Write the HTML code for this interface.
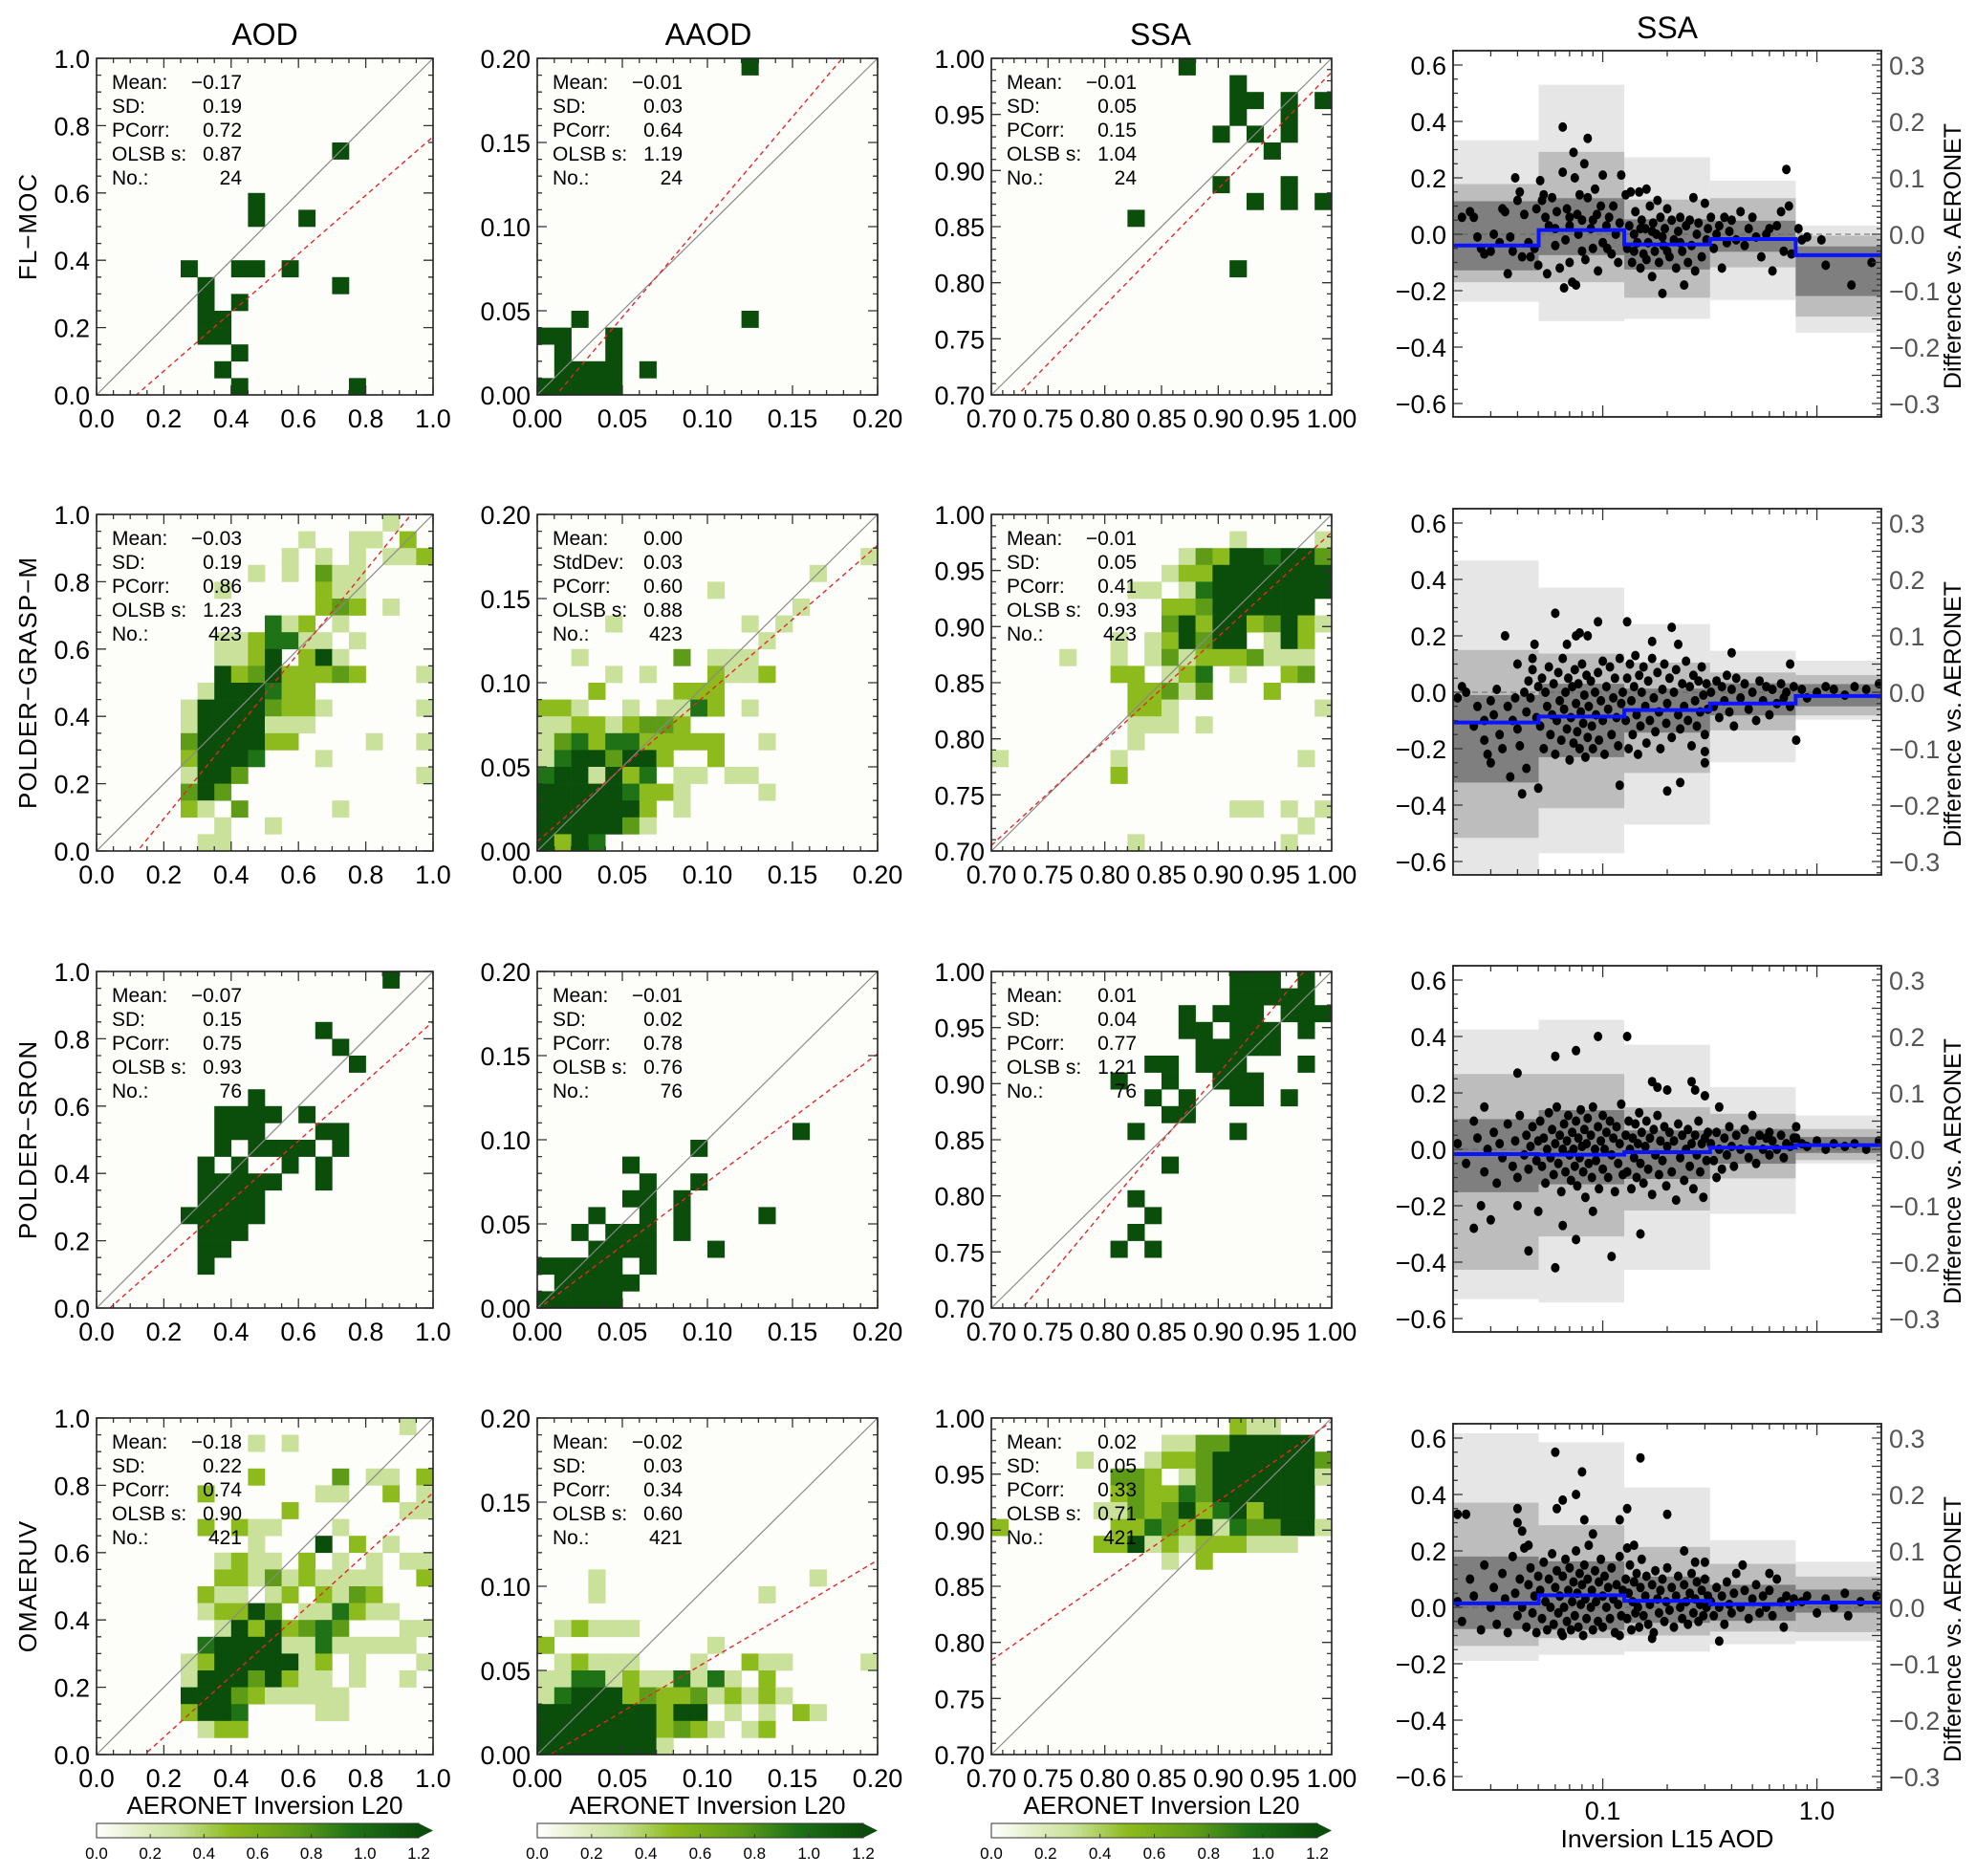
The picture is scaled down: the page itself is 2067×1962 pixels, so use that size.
<!DOCTYPE html>
<html><head><meta charset="utf-8">
<style>
body{margin:0;background:#fff}
svg{display:block;font-family:"Liberation Sans",Arial,sans-serif}
</style></head>
<body>
<svg id="fig" width="2067" height="1962" viewBox="0 0 2067 1962" xmlns="http://www.w3.org/2000/svg"></svg>
<script>
// ---------- data ----------
const rowNames = ["FL\u2212MOC","POLDER\u2212GRASP\u2212M","POLDER\u2212SRON","OMAERUV"];
const colTitles = ["AOD","AAOD","SSA","SSA"];
const xRanges = [[0,1],[0,0.2],[0.7,1.0]];
const xTickVals = [[0,0.2,0.4,0.6,0.8,1.0],[0,0.05,0.10,0.15,0.20],[0.70,0.75,0.80,0.85,0.90,0.95,1.00]];
const xTickLabels = [["0.0","0.2","0.4","0.6","0.8","1.0"],["0.00","0.05","0.10","0.15","0.20"],["0.70","0.75","0.80","0.85","0.90","0.95","1.00"]];
const minorStep = [0.05,0.01,0.01];
const statNames = ["Mean:","SD:","PCorr:","OLSB s:","No.:"];
const statNamesAlt = ["Mean:","StdDev:","PCorr:","OLSB s:","No.:"];
const statsRow1 = [["\u22120.17","0.19","0.72","0.87","24"],["\u22120.01","0.03","0.64","1.19","24"],["\u22120.01","0.05","0.15","1.04","24"]];
const statsRow2 = [["\u22120.03","0.19","0.86","1.23","423"],["0.00","0.03","0.60","0.88","423"],["\u22120.01","0.05","0.41","0.93","423"]];
const statsRow3 = [["\u22120.07","0.15","0.75","0.93","76"],["\u22120.01","0.02","0.78","0.76","76"],["0.01","0.04","0.77","1.21","76"]];
const statsRow4 = [["\u22120.18","0.22","0.74","0.90","421"],["\u22120.02","0.03","0.34","0.60","421"],["0.02","0.05","0.33","0.71","421"]];
const regIntercept = [[-0.103,-0.0133,-0.0523],[-0.15,0.0056,0.054],[-0.035,-0.001,-0.1804],[-0.13,-0.0045,0.287]];
const regSlope = [[0.87,1.19,1.04],[1.23,0.88,0.93],[0.886,0.76,1.21],[0.908,0.60,0.71]];
const levelValue = {a:0.3,b:0.5,c:0.75,d:0.95,e:1.2};

const gridR1Aod = ["....................","....................","....................","....................","....................","..............e.....","....................","....................",".........e..........",".........e..e.......","....................","....................",".....e..ee.e........","......e.......e.....","......e.e...........","......ee............","......ee............","........e...........",".......e............","........e......e...."];
const gridR1Aaod = ["............e.......","....................","....................","....................","....................","....................","....................","....................","....................","....................","....................","....................","....................","....................","....................","..e.........e.......","ee..e...............",".e..e...............",".eeee.e.............","eeeee..............."];
const gridR1Ssa = ["...........e........","..............e.....","..............ee.e.e","..............e..e..",".............e.e.e..","................e...","....................",".............e...e..","...............e.e.e","........e...........","....................","....................","..............e.....","....................","....................","....................","....................","....................","....................","...................."];
const gridR2Aod = [".................a..","............a..aa.b.","...........a.a.a.aab",".........a.a.caa....",".......a.....baa....",".............bcb.a..","..........dab.a.....",".......aabddaa.a....",".......aabe.bea.....",".......ebcebbbcb...a","......aeeedbb.......",".....aeeeecbba.....a",".....aeeeeaaa.......",".....ceeeebb....a..a",".....beeed...a......",".....aeec..........a",".....cec............",".....ba.c.....a.....",".......a..a.........","......aa............"];
const gridR2Aaod = ["....................","....................","...................a","................a...","..........a.........","...............a....","....a.......a.a.....",".............a......","..a.....c.aaa.......","....a.a...baab......","...b....bbb.........","bba..a.aadb.a.......","aabbabccb...........","acdbddbbbbb..a......","adeeceeb..b.........","deeaebd.aa.aa.......","eeeeedbba....a......","eeeeeeb.a...........","eeeeeca.............","ebed................"];
const gridR2Ssa = ["....................","..............a....a","...........acbeedeec","..........abbeeeeeee","........aa.adeeeeeee","..........bbceeeeee.","..........cebeebceba",".......a.abecee.aeb.","....a..a.acabbbcaaa.",".......bb.abd.a..bc.","........bbcac...b...","........bba........a","........aaa.a.......","........a...........","a......a..........a.",".......b............","....................","..............aa.a.a","..................a.","........a........a.."];
const gridR3Aod = [".................e..","....................","....................",".............e......","..............e.....","...............e....","....................",".........e..........",".......eeee.e.......",".......eee...ee.....",".......e.eeee.e.....","......e.e..e.e......","......eeeee..e......","......eeee..........",".....eeeee..........","......eee...........","......ee............","......e.............","....................","...................."];
const gridR3Aaod = ["....................","....................","....................","....................","....................","....................","....................","....................","....................","...............e....",".........e..........",".....e..............","......e..e..........",".....ee.e...........","...e..e.e....e......","..e.eee.e...........","...eeee...e.........","eeeee.e.............",".eeeee..............","eeeee..............."];
const gridR3Ssa = ["..............eee.e.","..............eeeee.","...........e.eee.eee","...........ee.eee.e.","............eeeee...",".........ee.eee...e.",".......e..e..eee....",".........e.e..ee.e..","..........ee........","........e.....e.....","....................","..........e.........","....................","........e...........",".........e..........","........e...........",".......e.e..........","....................","....................","...................."];
const gridR4Aod = ["..................a.",".........a.a........","....................",".........b....c.aa.b","......b......aa..b.a","...........b......aa","......b.baa...a.....",".........a...e.b.a..",".......abaa.b.a.a.aa",".......bbacabaaaa..b","......baa.ab.bacb...","......abbec.aadbaa..",".......aebebcdc...aa","......deeeeaadaaaaa.",".....abeeeeeab.a...a",".....aeeecebaa.a..a.",".....eeecbaaaaa.....",".....beed....aa.....","......abb...........","...................."];
const gridR4Aaod = ["....................","....................","....................","....................","....................","....................","....................","....................","....................","...a............a...","...a.........a......","....................",".abaaa..............","b.........a.........",".abaaa...a..baa....a","aaddabaadada.b......","adeeebcbbcababa.....","eeeeeeebee.a.a.ba...","eeeeeeebcba.ab......","eeeeeeea............"];
const gridR4Ssa = ["..............baa...","..........aacceeeee.",".....a...abbceeeeeec",".......ccb.aceeeeeea",".......bcbbdceeeeee.","......aacbcebdebeee.","b......bbdcbeadcceea","......bbeababbbaaa..","..........a.b.......","....................","....................","....................","....................","....................","....................","....................","....................","....................","....................","...................."];

const binEdges = [0.02,0.0502,0.126,0.317,0.796,2.0];
const binMean = [[-0.04,0.015,-0.036,-0.017,-0.074],[-0.107,-0.086,-0.063,-0.04,-0.013],[-0.017,-0.019,-0.01,0.006,0.015],[0.014,0.043,0.023,0.011,0.017]];
const bandLight = [[[-0.239,0.333],[-0.308,0.53],[-0.30,0.273],[-0.233,0.19],[-0.349,0.031]],[[-0.647,0.467],[-0.571,0.371],[-0.469,0.242],[-0.248,0.147],[-0.097,0.112]],[[-0.531,0.425],[-0.543,0.459],[-0.427,0.371],[-0.229,0.221],[-0.05,0.12]],[[-0.19,0.617],[-0.168,0.585],[-0.157,0.425],[-0.131,0.238],[-0.12,0.162]]];
const bandMid = [[[-0.17,0.178],[-0.17,0.292],[-0.225,0.123],[-0.117,0.128],[-0.292,-0.005]],[[-0.516,0.15],[-0.411,0.137],[-0.286,0.105],[-0.135,0.07],[-0.082,0.061]],[[-0.427,0.267],[-0.309,0.267],[-0.217,0.149],[-0.103,0.126],[-0.038,0.072]],[[-0.137,0.371],[-0.109,0.291],[-0.10,0.214],[-0.086,0.154],[-0.088,0.109]]];
const bandDark = [[[-0.128,0.117],[-0.074,0.128],[-0.125,0.053],[-0.062,0.048],[-0.219,-0.043]],[[-0.32,-0.01],[-0.23,0.03],[-0.143,0.013],[-0.082,0.032],[-0.05,0.029]],[[-0.152,0.107],[-0.124,0.139],[-0.105,0.067],[-0.051,0.072],[-0.013,0.044]],[[-0.077,0.18],[-0.08,0.163],[-0.055,0.109],[-0.048,0.08],[-0.019,0.063]]];

const dotsR1 = [[0.022,0.06],[0.024,0.08],[0.025,0.06],[0.026,-0.01],[0.027,-0.05],[0.028,-0.07],[0.03,-0.06],[0.031,0.0],[0.033,-0.03],[0.034,0.09],[0.035,0.08],[0.036,-0.14],[0.037,-0.01],[0.038,-0.06],[0.039,0.2],[0.04,0.12],[0.041,0.15],[0.042,-0.08],[0.043,0.07],[0.045,-0.03],[0.046,-0.08],[0.048,-0.05],[0.049,0.09],[0.05,-0.11],
[0.051,0.19],[0.052,0.12],[0.053,0.14],[0.054,0.06],[0.055,-0.14],[0.056,0.03],[0.058,0.13],[0.06,-0.04],[0.061,0.08],[0.063,-0.12],[0.065,0.38],[0.065,0.22],[0.066,-0.19],[0.067,-0.02],[0.068,0.09],[0.07,0.06],[0.07,-0.1],[0.072,-0.17],[0.073,0.29],[0.074,0.2],[0.075,-0.18],[0.076,0.07],[0.077,0.0],[0.078,0.14],[0.08,0.05],[0.082,0.25],[0.083,-0.09],[0.085,0.34],[0.085,0.13],[0.088,0.02],[0.09,-0.05],[0.092,0.16],[0.094,0.07],[0.095,-0.13],[0.098,0.1],[0.1,0.21],[0.1,-0.03],[0.104,0.03],[0.107,0.06],[0.11,-0.07],[0.112,0.1],[0.115,0.0],[0.118,-0.1],[0.12,0.04],[0.122,0.21],[0.06,0.02],[0.07,0.03],[0.09,0.05],[0.105,-0.05],[0.08,-0.06],
[0.128,0.14],[0.13,-0.05],[0.133,0.03],[0.135,0.15],[0.137,-0.1],[0.14,0.0],[0.142,0.08],[0.145,-0.03],[0.148,0.15],[0.15,-0.12],[0.152,0.05],[0.155,-0.07],[0.158,0.02],[0.16,0.16],[0.163,-0.03],[0.166,0.1],[0.17,-0.15],[0.172,0.04],[0.175,-0.06],[0.178,0.0],[0.18,0.12],[0.183,-0.1],[0.186,0.06],[0.19,-0.21],[0.192,-0.04],[0.195,0.02],[0.2,0.09],[0.205,-0.08],[0.21,0.05],[0.215,-0.02],[0.22,-0.12],[0.225,0.01],[0.23,0.06],[0.235,-0.06],[0.24,-0.18],[0.245,0.03],[0.25,-0.1],[0.255,0.05],[0.26,-0.04],[0.265,0.13],[0.27,-0.13],[0.275,0.0],[0.28,0.04],[0.29,-0.08],[0.3,0.11],[0.305,-0.02],[0.31,0.02],[0.14,-0.06],[0.16,-0.09],[0.19,-0.01],[0.2,-0.06],[0.23,-0.03],[0.15,0.02],[0.17,0.01],
[0.32,0.06],[0.33,-0.05],[0.34,0.0],[0.35,0.03],[0.36,-0.12],[0.37,0.06],[0.38,-0.03],[0.39,0.01],[0.4,0.05],[0.42,-0.02],[0.44,0.08],[0.46,-0.04],[0.48,0.02],[0.5,0.06],[0.52,-0.01],[0.55,-0.08],[0.58,0.0],[0.6,0.02],[0.62,-0.13],[0.65,0.03],[0.68,0.08],[0.7,-0.06],[0.72,0.23],[0.74,0.1],[0.76,-0.07],
[0.82,0.02],[0.85,-0.02],[0.9,-0.01],[1.1,-0.11],[1.45,-0.18],[1.8,-0.1],[1.05,-0.02]];
const dotsR2 = [[0.035,0.2],[0.04,0.1],[0.048,0.17],[0.047,0.12],[0.06,0.28],[0.068,0.17],[0.075,0.2],[0.078,0.21],[0.085,0.2],[0.095,0.25],[0.13,0.25],[0.17,0.18],[0.21,0.23],[0.225,0.17],[0.4,0.14],[0.75,0.1],[0.8,-0.17],[0.042,-0.36],[0.05,-0.34],[0.044,-0.27],[0.12,-0.33],[0.2,-0.35],[0.23,-0.32],[0.3,-0.21],[0.3,-0.25],[0.03,-0.25],[0.037,-0.3],[0.028,-0.17],[0.03,-0.03],[0.022,0.02],
[0.021,-0.02],[0.023,0.0],[0.025,-0.12],[0.026,-0.05],[0.028,-0.1],[0.029,-0.22],[0.031,-0.08],[0.032,0.01],[0.033,-0.15],[0.034,-0.2],[0.036,-0.05],[0.038,-0.1],[0.039,-0.02],[0.04,-0.13],[0.041,-0.19],[0.043,0.0],[0.044,-0.07],[0.045,0.04],[0.046,-0.02],[0.047,0.08],[0.049,-0.09],[0.05,0.02],
[0.051,-0.12],[0.052,0.05],[0.053,-0.2],[0.054,0.0],[0.055,-0.05],[0.056,0.09],[0.057,-0.15],[0.058,-0.08],[0.059,0.03],[0.06,-0.22],[0.061,-0.1],[0.062,0.07],[0.063,-0.03],[0.064,-0.17],[0.065,0.12],[0.066,-0.06],[0.067,0.0],[0.068,-0.13],[0.069,0.05],[0.07,-0.24],[0.071,-0.09],[0.072,0.02],[0.073,-0.18],[0.074,0.08],[0.075,-0.04],[0.076,-0.14],[0.077,0.03],[0.078,-0.2],[0.079,-0.07],[0.08,0.1],[0.081,-0.11],[0.082,-0.01],[0.083,-0.23],[0.084,0.06],[0.085,-0.16],[0.086,-0.05],[0.088,0.04],[0.089,-0.12],[0.09,-0.2],[0.092,0.0],[0.093,-0.08],[0.095,0.07],[0.096,-0.17],[0.098,-0.03],[0.1,0.11],[0.1,-0.1],[0.102,-0.22],[0.104,0.02],[0.106,-0.06],[0.108,0.09],[0.11,-0.15],[0.112,-0.02],[0.114,0.05],[0.116,-0.09],[0.118,-0.19],[0.12,0.12],[0.122,-0.04],[0.124,0.0],
[0.128,-0.1],[0.13,0.05],[0.132,-0.2],[0.134,0.1],[0.136,-0.03],[0.138,-0.15],[0.14,0.02],[0.142,0.13],[0.144,-0.08],[0.146,-0.22],[0.148,0.06],[0.15,-0.12],[0.152,0.0],[0.155,0.09],[0.158,-0.05],[0.16,-0.18],[0.163,0.04],[0.166,-0.1],[0.17,0.12],[0.173,-0.02],[0.176,-0.14],[0.18,0.07],[0.183,-0.07],[0.186,-0.2],[0.19,0.01],[0.194,0.1],[0.198,-0.11],[0.2,-0.04],[0.205,0.05],[0.21,-0.16],[0.215,0.0],[0.22,0.08],[0.225,-0.08],[0.23,-0.13],[0.235,0.03],[0.24,-0.05],[0.245,0.11],[0.25,-0.1],[0.255,0.02],[0.26,-0.19],[0.265,0.06],[0.27,-0.03],[0.275,-0.12],[0.28,0.04],[0.285,-0.07],[0.29,0.09],[0.295,-0.01],[0.3,-0.15],[0.305,0.03],[0.31,-0.06],
[0.32,0.0],[0.33,-0.05],[0.34,0.04],[0.35,-0.09],[0.36,0.02],[0.37,-0.03],[0.38,0.06],[0.39,-0.07],[0.4,0.01],[0.41,-0.12],[0.42,0.05],[0.44,-0.02],[0.46,0.03],[0.48,-0.06],[0.5,0.0],[0.52,-0.1],[0.54,0.04],[0.56,-0.03],[0.58,0.02],[0.6,-0.08],[0.62,0.01],[0.65,-0.04],[0.68,0.03],[0.7,-0.02],[0.72,0.0],[0.75,-0.05],[0.78,0.02],
[0.85,0.01],[0.9,-0.02],[1.0,0.0],[1.1,0.02],[1.2,0.01],[1.35,-0.01],[1.5,0.02],[1.7,0.01],[1.95,0.03]];
const dotsR3 = [[0.06,0.33],[0.075,0.35],[0.095,0.4],[0.13,0.4],[0.04,0.27],[0.028,0.15],[0.027,-0.2],[0.03,-0.25],[0.025,-0.28],[0.045,-0.36],[0.05,-0.22],[0.065,-0.27],[0.075,-0.32],[0.09,-0.22],[0.11,-0.38],[0.15,-0.3],[0.06,-0.42],[0.17,0.24],[0.18,0.22],[0.2,0.21],[0.26,0.24],[0.27,0.21],[0.3,0.19],[0.35,0.15],[0.5,0.12],[0.34,-0.1],[0.6,0.06],[0.8,0.08],[0.8,0.04],[0.04,-0.2],
[0.021,0.02],[0.023,-0.05],[0.025,0.1],[0.026,0.04],[0.028,-0.08],[0.029,0.0],[0.031,0.06],[0.032,-0.12],[0.033,0.02],[0.034,-0.03],[0.036,0.09],[0.038,-0.06],[0.039,0.03],[0.04,-0.1],[0.041,0.12],[0.043,-0.02],[0.044,0.05],[0.045,-0.07],[0.046,0.01],[0.047,0.08],[0.049,-0.04],[0.05,0.03],
[0.051,0.1],[0.052,-0.06],[0.053,0.04],[0.054,-0.12],[0.055,0.0],[0.056,0.13],[0.057,-0.03],[0.058,0.07],[0.059,-0.09],[0.06,0.02],[0.061,0.15],[0.062,-0.05],[0.063,0.05],[0.064,-0.15],[0.065,0.0],[0.066,0.09],[0.067,-0.08],[0.068,0.03],[0.069,0.12],[0.07,-0.02],[0.071,-0.11],[0.072,0.06],[0.073,0.0],[0.074,-0.06],[0.075,0.1],[0.076,-0.13],[0.077,0.04],[0.078,-0.03],[0.079,0.14],[0.08,0.01],[0.081,-0.08],[0.082,0.07],[0.083,-0.17],[0.084,0.02],[0.085,0.11],[0.086,-0.05],[0.088,0.05],[0.089,-0.1],[0.09,0.15],[0.092,0.0],[0.093,-0.04],[0.095,0.08],[0.096,-0.14],[0.098,0.03],[0.1,0.12],[0.1,-0.07],[0.102,0.0],[0.104,0.06],[0.106,-0.1],[0.108,0.1],[0.11,-0.02],[0.112,0.04],[0.114,-0.15],[0.116,0.08],[0.118,-0.05],[0.12,0.02],[0.122,0.16],[0.124,-0.09],
[0.128,0.05],[0.13,-0.08],[0.132,0.1],[0.134,0.0],[0.136,-0.14],[0.138,0.04],[0.14,-0.03],[0.142,0.09],[0.144,-0.1],[0.146,0.02],[0.148,0.13],[0.15,-0.05],[0.152,0.06],[0.155,-0.12],[0.158,0.01],[0.16,0.1],[0.163,-0.07],[0.166,0.04],[0.17,-0.16],[0.173,0.07],[0.176,-0.02],[0.18,0.12],[0.183,-0.09],[0.186,0.03],[0.19,-0.04],[0.194,0.08],[0.198,-0.13],[0.2,0.01],[0.205,0.06],[0.21,-0.08],[0.215,0.03],[0.22,-0.18],[0.225,0.09],[0.23,-0.03],[0.235,0.05],[0.24,-0.11],[0.245,0.0],[0.25,0.07],[0.255,-0.06],[0.26,0.02],[0.265,-0.14],[0.27,0.05],[0.275,-0.02],[0.28,0.1],[0.285,-0.08],[0.29,0.02],[0.295,-0.17],[0.3,0.04],[0.305,-0.04],[0.31,0.06],
[0.32,0.02],[0.33,-0.04],[0.34,0.06],[0.35,0.0],[0.36,-0.07],[0.37,0.04],[0.38,-0.02],[0.39,0.08],[0.4,0.01],[0.41,-0.06],[0.42,0.05],[0.44,0.0],[0.46,0.07],[0.48,-0.03],[0.5,0.03],[0.52,-0.05],[0.54,0.05],[0.56,0.0],[0.58,0.04],[0.6,-0.02],[0.62,0.03],[0.65,0.0],[0.68,0.05],[0.7,-0.03],[0.72,0.02],[0.75,0.01],[0.78,0.04],
[0.85,0.02],[0.9,0.01],[1.0,0.03],[1.1,0.0],[1.2,0.02],[1.35,0.01],[1.5,0.02],[1.7,0.0],[1.95,0.03]];
const dotsR4 = [[0.021,0.33],[0.023,0.33],[0.04,0.35],[0.04,0.3],[0.042,0.27],[0.045,0.22],[0.06,0.55],[0.061,0.35],[0.065,0.38],[0.075,0.4],[0.08,0.48],[0.082,0.31],[0.09,0.26],[0.12,0.31],[0.13,0.35],[0.15,0.53],[0.2,0.33],[0.14,0.22],[0.13,0.21],[0.24,0.2],[0.27,0.16],[0.3,0.16],[0.45,0.15],[0.6,0.12],[0.35,-0.12],[0.065,-0.1],[0.12,-0.1],[0.17,-0.11],
[0.021,0.02],[0.022,-0.05],[0.024,0.1],[0.025,0.04],[0.027,-0.08],[0.028,0.15],[0.03,0.0],[0.031,0.07],[0.032,-0.06],[0.034,0.12],[0.035,0.03],[0.036,-0.09],[0.038,0.18],[0.039,0.05],[0.04,-0.03],[0.041,0.1],[0.042,0.0],[0.043,0.21],[0.044,-0.07],[0.045,0.08],[0.046,0.14],[0.047,-0.02],[0.048,0.04],[0.049,-0.09],[0.05,0.11],
[0.051,0.06],[0.052,-0.04],[0.053,0.16],[0.054,0.02],[0.055,-0.08],[0.056,0.1],[0.057,0.0],[0.058,0.19],[0.059,-0.06],[0.06,0.07],[0.061,0.13],[0.062,-0.02],[0.063,0.04],[0.064,-0.09],[0.065,0.11],[0.066,0.0],[0.067,0.17],[0.068,-0.05],[0.069,0.06],[0.07,0.14],[0.071,-0.08],[0.072,0.02],[0.073,0.09],[0.074,-0.03],[0.075,0.2],[0.076,0.05],[0.077,-0.07],[0.078,0.12],[0.079,0.01],[0.08,0.08],[0.081,-0.1],[0.082,0.15],[0.083,0.03],[0.084,-0.04],[0.085,0.1],[0.086,0.22],[0.088,0.0],[0.089,0.06],[0.09,-0.08],[0.092,0.13],[0.093,0.02],[0.095,-0.05],[0.096,0.09],[0.098,0.17],[0.1,0.04],[0.1,-0.07],[0.102,0.11],[0.104,0.0],[0.106,0.07],[0.108,-0.04],[0.11,0.14],[0.112,0.03],[0.114,-0.09],[0.116,0.08],[0.118,0.01],[0.12,0.18],[0.122,-0.03],[0.124,0.06],
[0.128,0.1],[0.13,-0.04],[0.132,0.05],[0.134,0.15],[0.136,-0.08],[0.138,0.02],[0.14,0.09],[0.142,-0.02],[0.144,0.12],[0.146,0.0],[0.148,-0.07],[0.15,0.07],[0.152,0.17],[0.155,-0.03],[0.158,0.04],[0.16,0.11],[0.163,-0.06],[0.166,0.01],[0.17,0.08],[0.173,-0.09],[0.176,0.13],[0.18,0.03],[0.183,-0.02],[0.186,0.06],[0.19,0.1],[0.194,-0.05],[0.198,0.02],[0.2,0.14],[0.205,-0.01],[0.21,0.07],[0.215,-0.07],[0.22,0.04],[0.225,0.11],[0.23,0.0],[0.235,-0.04],[0.24,0.08],[0.245,0.02],[0.25,-0.06],[0.255,0.05],[0.26,0.12],[0.265,-0.02],[0.27,0.03],[0.275,0.09],[0.28,-0.05],[0.285,0.01],[0.29,0.06],[0.295,-0.03],[0.3,0.1],[0.305,0.0],[0.31,0.04],
[0.32,0.02],[0.33,-0.03],[0.34,0.07],[0.35,0.0],[0.36,0.04],[0.37,-0.06],[0.38,0.09],[0.39,0.01],[0.4,-0.02],[0.41,0.05],[0.42,0.12],[0.44,0.0],[0.46,0.06],[0.48,-0.04],[0.5,0.03],[0.52,0.08],[0.54,-0.02],[0.56,0.04],[0.58,0.0],[0.6,0.06],[0.62,-0.03],[0.65,0.1],[0.68,0.02],[0.7,-0.07],[0.72,0.04],[0.75,0.0],[0.78,0.03],
[0.85,0.02],[0.9,0.04],[1.0,-0.02],[1.1,0.03],[1.2,0.0],[1.35,0.05],[1.4,-0.03],[1.6,0.02],[1.9,0.04]];

// ---------- layout ----------
const colX = [101,562,1037];
const colW = [352,356,356];
const rowTop = [61,538,1016,1483];
const PH = 352;
const rpX0 = 1520, rpX1 = 1968;
const rpTop = [53,532,1010,1489];
const RPH = 383;
const TICKFS = 27;

const grids = [[gridR1Aod,gridR1Aaod,gridR1Ssa],[gridR2Aod,gridR2Aaod,gridR2Ssa],[gridR3Aod,gridR3Aaod,gridR3Ssa],[gridR4Aod,gridR4Aaod,gridR4Ssa]];
const statsAll = [statsRow1,statsRow2,statsRow3,statsRow4];
const dotsAll = [dotsR1,dotsR2,dotsR3,dotsR4];

const NS = "http://www.w3.org/2000/svg";
const svg = document.getElementById("fig");
function mk(tag, parent){ const e=document.createElementNS(NS,tag); parent.appendChild(e); return e; }
function txt(parent,x,y,s,size,anchor,fill,name){
  const t=mk("text",parent);
  t.setAttribute("x",x); t.setAttribute("y",y);
  t.setAttribute("font-size",size); t.setAttribute("text-anchor",anchor||"start");
  t.setAttribute("fill",fill||"#000");
  t.textContent=s;
  
  
  return t;
}
const cstops=[[0,[255,255,255]],[0.2,[219,234,184]],[0.3,[201,225,155]],[0.5,[141,187,29]],[0.75,[94,156,24]],[0.95,[31,114,22]],[1.2,[11,77,11]]];
function colorOf(v){
  v=Math.max(0,Math.min(1.2,v));
  for(let k=1;k<cstops.length;k++){
    if(v<=cstops[k][0]){const a=cstops[k-1],b=cstops[k];const f=(v-a[0])/(b[0]-a[0]);
      const c=a[1].map((x,i)=>Math.round(x+(b[1][i]-x)*f));return `rgb(${c[0]},${c[1]},${c[2]})`;}
  }
  return "rgb(11,77,11)";
}
const defs=mk("defs",svg);
const lg=mk("linearGradient",defs); lg.setAttribute("id","cbg");
for(let k=0;k<=24;k++){const st=mk("stop",lg);st.setAttribute("offset",(k/24));st.setAttribute("stop-color",colorOf(k/24*1.2));}

const titleX=[277,741,1214,1744];
const titleY=[47,47,47,40];
for(let c=0;c<4;c++){ txt(svg,titleX[c],titleY[c],colTitles[c],32,"middle","#000","column-title-"+colTitles[c].toLowerCase()+"-"+(c+1)); }

for(let r=0;r<4;r++){
  const cy=rowTop[r]+176;
  const rl=txt(svg,0,0,rowNames[r],26,"middle","#000","row-label-"+(r+1));
  rl.setAttribute("transform",`translate(38,${cy}) rotate(-90)`);
  rl.setAttribute("letter-spacing","1");

  for(let c=0;c<3;c++){
    const g=mk("g",svg);
    
    
    const x0=colX[c], w=colW[c], y0=rowTop[r];
    const [mn,mx]=xRanges[c];
    const sx=v=>x0+(v-mn)/(mx-mn)*w;
    const sy=v=>y0+PH-(v-mn)/(mx-mn)*PH;
    const bg=mk("rect",g); bg.setAttribute("x",x0);bg.setAttribute("y",y0);bg.setAttribute("width",w);bg.setAttribute("height",PH);bg.setAttribute("fill","#fdfdfa");
    
    
    const clipId=`clip${r}${c}`;
    const cp=mk("clipPath",defs); cp.setAttribute("id",clipId);
    const cr=mk("rect",cp); cr.setAttribute("x",x0);cr.setAttribute("y",y0);cr.setAttribute("width",w);cr.setAttribute("height",PH);
    const grid=grids[r][c]; const step=(mx-mn)/20;
    for(let row=0;row<20;row++){
      const s=(grid[row]||"");
      for(let i=0;i<20;i++){
        const ch=s[i]; if(!ch||!levelValue[ch]) continue;
        const vx=mn+i*step, vy=mx-row*step;
        const rc=mk("rect",g);
        rc.setAttribute("x",sx(vx).toFixed(2)); rc.setAttribute("y",sy(vy).toFixed(2));
        rc.setAttribute("width",(sx(vx+step)-sx(vx)+0.3).toFixed(2)); rc.setAttribute("height",(sy(vy-step)-sy(vy)+0.3).toFixed(2));
        rc.setAttribute("fill",colorOf(levelValue[ch]));
        
        
      }
    }
    const l1=mk("line",g); l1.setAttribute("x1",sx(mn));l1.setAttribute("y1",sy(mn));l1.setAttribute("x2",sx(mx));l1.setAttribute("y2",sy(mx));
    l1.setAttribute("stroke","#8a8a8a");l1.setAttribute("stroke-width","1.2");
    
    
    const a=regIntercept[r][c], b=regSlope[r][c];
    const rl2=mk("line",g); rl2.setAttribute("x1",sx(mn));rl2.setAttribute("y1",sy(a+b*mn));rl2.setAttribute("x2",sx(mx));rl2.setAttribute("y2",sy(a+b*mx));
    rl2.setAttribute("stroke","#e02828");rl2.setAttribute("stroke-width","1.4");rl2.setAttribute("stroke-dasharray","5,4");
    rl2.setAttribute("clip-path",`url(#${clipId})`);
    
    
    const nMinor=Math.round((mx-mn)/minorStep[c]);
    let dpath="";
    for(let k=0;k<=nMinor;k++){
      const v=mn+k*minorStep[c];
      const major=xTickVals[c].some(t=>Math.abs(t-v)<1e-6);
      const L=major?10:5;
      const X=sx(v), Y=sy(v);
      dpath+=`M${X},${y0+PH}v${-L}M${X},${y0}v${L}M${x0},${Y}h${L}M${x0+w},${Y}h${-L}`;
    }
    const tk=mk("path",g); tk.setAttribute("d",dpath); tk.setAttribute("stroke","#333"); tk.setAttribute("stroke-width","1.3"); tk.setAttribute("fill","none");
    
    
    const fr=mk("rect",g); fr.setAttribute("x",x0);fr.setAttribute("y",y0);fr.setAttribute("width",w);fr.setAttribute("height",PH);fr.setAttribute("fill","none");fr.setAttribute("stroke","#222");fr.setAttribute("stroke-width","1.6");
    
    
    xTickVals[c].forEach((v,k)=>{
      txt(g,sx(v),y0+PH+34,xTickLabels[c][k],TICKFS,"middle","#000","x-tick-label");
      txt(g,x0-7,sy(v)+10,xTickLabels[c][k],TICKFS,"end","#000","y-tick-label");
    });
    const names=(r===1&&c===1)?statNamesAlt:statNames;
    for(let k=0;k<5;k++){
      txt(g,x0+16,y0+32+k*25,names[k],21,"start","#000","stat-label");
      txt(g,x0+152,y0+32+k*25,statsAll[r][c][k],21,"end","#000","stat-value");
    }
    if(r===3){
      const xl=txt(g,x0+w/2,1897,"AERONET Inversion L20",26,"middle","#000","x-axis-title");
      xl.setAttribute("textLength","289"); xl.setAttribute("lengthAdjust","spacingAndGlyphs");
      const bw=w-15, cbY=1907, cbH=15;
      const cb=mk("rect",g); cb.setAttribute("x",x0);cb.setAttribute("y",cbY);cb.setAttribute("width",bw);cb.setAttribute("height",cbH);
      cb.setAttribute("fill","url(#cbg)");cb.setAttribute("stroke","#333");cb.setAttribute("stroke-width","1");
      
      
      const ar=mk("polygon",g); ar.setAttribute("points",`${x0+bw},${cbY} ${x0+bw+15},${cbY+cbH/2} ${x0+bw},${cbY+cbH}`); ar.setAttribute("fill","rgb(11,77,11)");
      
      
      const cbl=["0.0","0.2","0.4","0.6","0.8","1.0","1.2"];
      let tp="";
      cbl.forEach((s,k)=>{ const X=x0+bw*k/6; tp+=`M${X},${cbY+cbH}v-4`; txt(g,X,1944,s,17,"middle","#000","colorbar-label"); });
      const cbt=mk("path",g); cbt.setAttribute("d",tp); cbt.setAttribute("stroke","#333"); cbt.setAttribute("stroke-width","1");
    }
  }

  const g=mk("g",svg);
  
  
  const t0=rpTop[r];
  const lx=v=>rpX0+(Math.log10(v)-Math.log10(0.02))*224;
  const ly=v=>t0+15+(0.6-v)*295;
  const cpId="rclip"+r;
  const cp=mk("clipPath",defs); cp.setAttribute("id",cpId);
  const cr=mk("rect",cp); cr.setAttribute("x",rpX0);cr.setAttribute("y",t0);cr.setAttribute("width",rpX1-rpX0);cr.setAttribute("height",RPH);
  const inner=mk("g",g); inner.setAttribute("clip-path",`url(#${cpId})`);
  const bandSets=[[bandLight,"#e6e6e6","band-2sigma"],[bandMid,"#bdbdbd","band-1sigma"],[bandDark,"#7f7f7f","band-interquartile"]];
  bandSets.forEach(([arr,col,nm])=>{
    for(let b=0;b<5;b++){
      const [lo,hi]=arr[r][b];
      const re=mk("rect",inner);
      re.setAttribute("x",lx(binEdges[b]));re.setAttribute("width",lx(binEdges[b+1])-lx(binEdges[b]));
      re.setAttribute("y",ly(hi));re.setAttribute("height",ly(lo)-ly(hi));re.setAttribute("fill",col);
      
      
    }
  });
  const zl=mk("line",inner); zl.setAttribute("x1",rpX0);zl.setAttribute("x2",rpX1);zl.setAttribute("y1",ly(0));zl.setAttribute("y2",ly(0));
  zl.setAttribute("stroke","#666");zl.setAttribute("stroke-dasharray","6,4");zl.setAttribute("stroke-width","1");
  
  
  dotsAll[r].forEach(([xv,yv])=>{
    const d=mk("ellipse",inner); d.setAttribute("cx",lx(xv).toFixed(1)); d.setAttribute("cy",ly(yv).toFixed(1)); d.setAttribute("rx","4.5"); d.setAttribute("ry","5"); d.setAttribute("fill","#000");
    
    
  });
  let mp="";
  for(let b=0;b<5;b++){ const Y=ly(binMean[r][b]); mp+=(b===0?"M":"L")+lx(binEdges[b])+","+Y+"L"+lx(binEdges[b+1])+","+Y; }
  const ml=mk("path",inner); ml.setAttribute("d",mp); ml.setAttribute("stroke","#0a14ff"); ml.setAttribute("stroke-width","4"); ml.setAttribute("fill","none");
  
  
  let tp="";
  for(let k=-13;k<=13;k++){ const v=k*0.05; if(v<-0.647||v>0.651) continue; const major=k%4===0; tp+=`M${rpX0},${ly(v)}h${major?10:5}`; }
  for(let k=-32;k<=32;k++){ const v=k*0.02; if(v<-0.647||v>0.651) continue; const major=k%5===0; tp+=`M${rpX1},${ly(v)}h${major?-10:-5}`; }
  const logT=[0.02,0.03,0.04,0.05,0.06,0.07,0.08,0.09,0.1,0.2,0.3,0.4,0.5,0.6,0.7,0.8,0.9,1,2];
  logT.forEach(v=>{ const major=(v===0.1||v===1); const L=major?12:6; tp+=`M${lx(v)},${t0+RPH}v${-L}M${lx(v)},${t0}v${L}`; });
  const tk=mk("path",g); tk.setAttribute("d",tp); tk.setAttribute("stroke","#333"); tk.setAttribute("stroke-width","1.3");
  
  
  const fr=mk("rect",g); fr.setAttribute("x",rpX0);fr.setAttribute("y",t0);fr.setAttribute("width",rpX1-rpX0);fr.setAttribute("height",RPH);fr.setAttribute("fill","none");fr.setAttribute("stroke","#222");fr.setAttribute("stroke-width","1.8");
  
  
  const leftL=["0.6","0.4","0.2","0.0","\u22120.2","\u22120.4","\u22120.6"];
  const rightL=["0.3","0.2","0.1","0.0","\u22120.1","\u22120.2","\u22120.3"];
  for(let k=0;k<7;k++){
    const v=0.6-k*0.2;
    txt(g,rpX0-7,ly(v)+10,leftL[k],TICKFS,"end","#000","y-tick-label-left");
    txt(g,rpX1+8,ly(v)+10,rightL[k],TICKFS,"start","#555","y-tick-label-right");
  }
  const yt=txt(g,0,0,"Difference vs. AERONET",25,"middle","#000","y-axis-title-right");
  yt.setAttribute("transform",`translate(2051,${t0+215}) rotate(-90)`);
  yt.setAttribute("textLength","278"); yt.setAttribute("lengthAdjust","spacingAndGlyphs");
  if(r===3){
    txt(g,lx(0.1),1903,"0.1",TICKFS,"middle","#000","x-tick-label");
    txt(g,lx(1.0),1903,"1.0",TICKFS,"middle","#000","x-tick-label");
    const xt=txt(g,1744,1932,"Inversion L15 AOD",26,"middle","#000","x-axis-title");
    xt.setAttribute("textLength","223"); xt.setAttribute("lengthAdjust","spacingAndGlyphs");
  }
}
</script>
</body></html>
